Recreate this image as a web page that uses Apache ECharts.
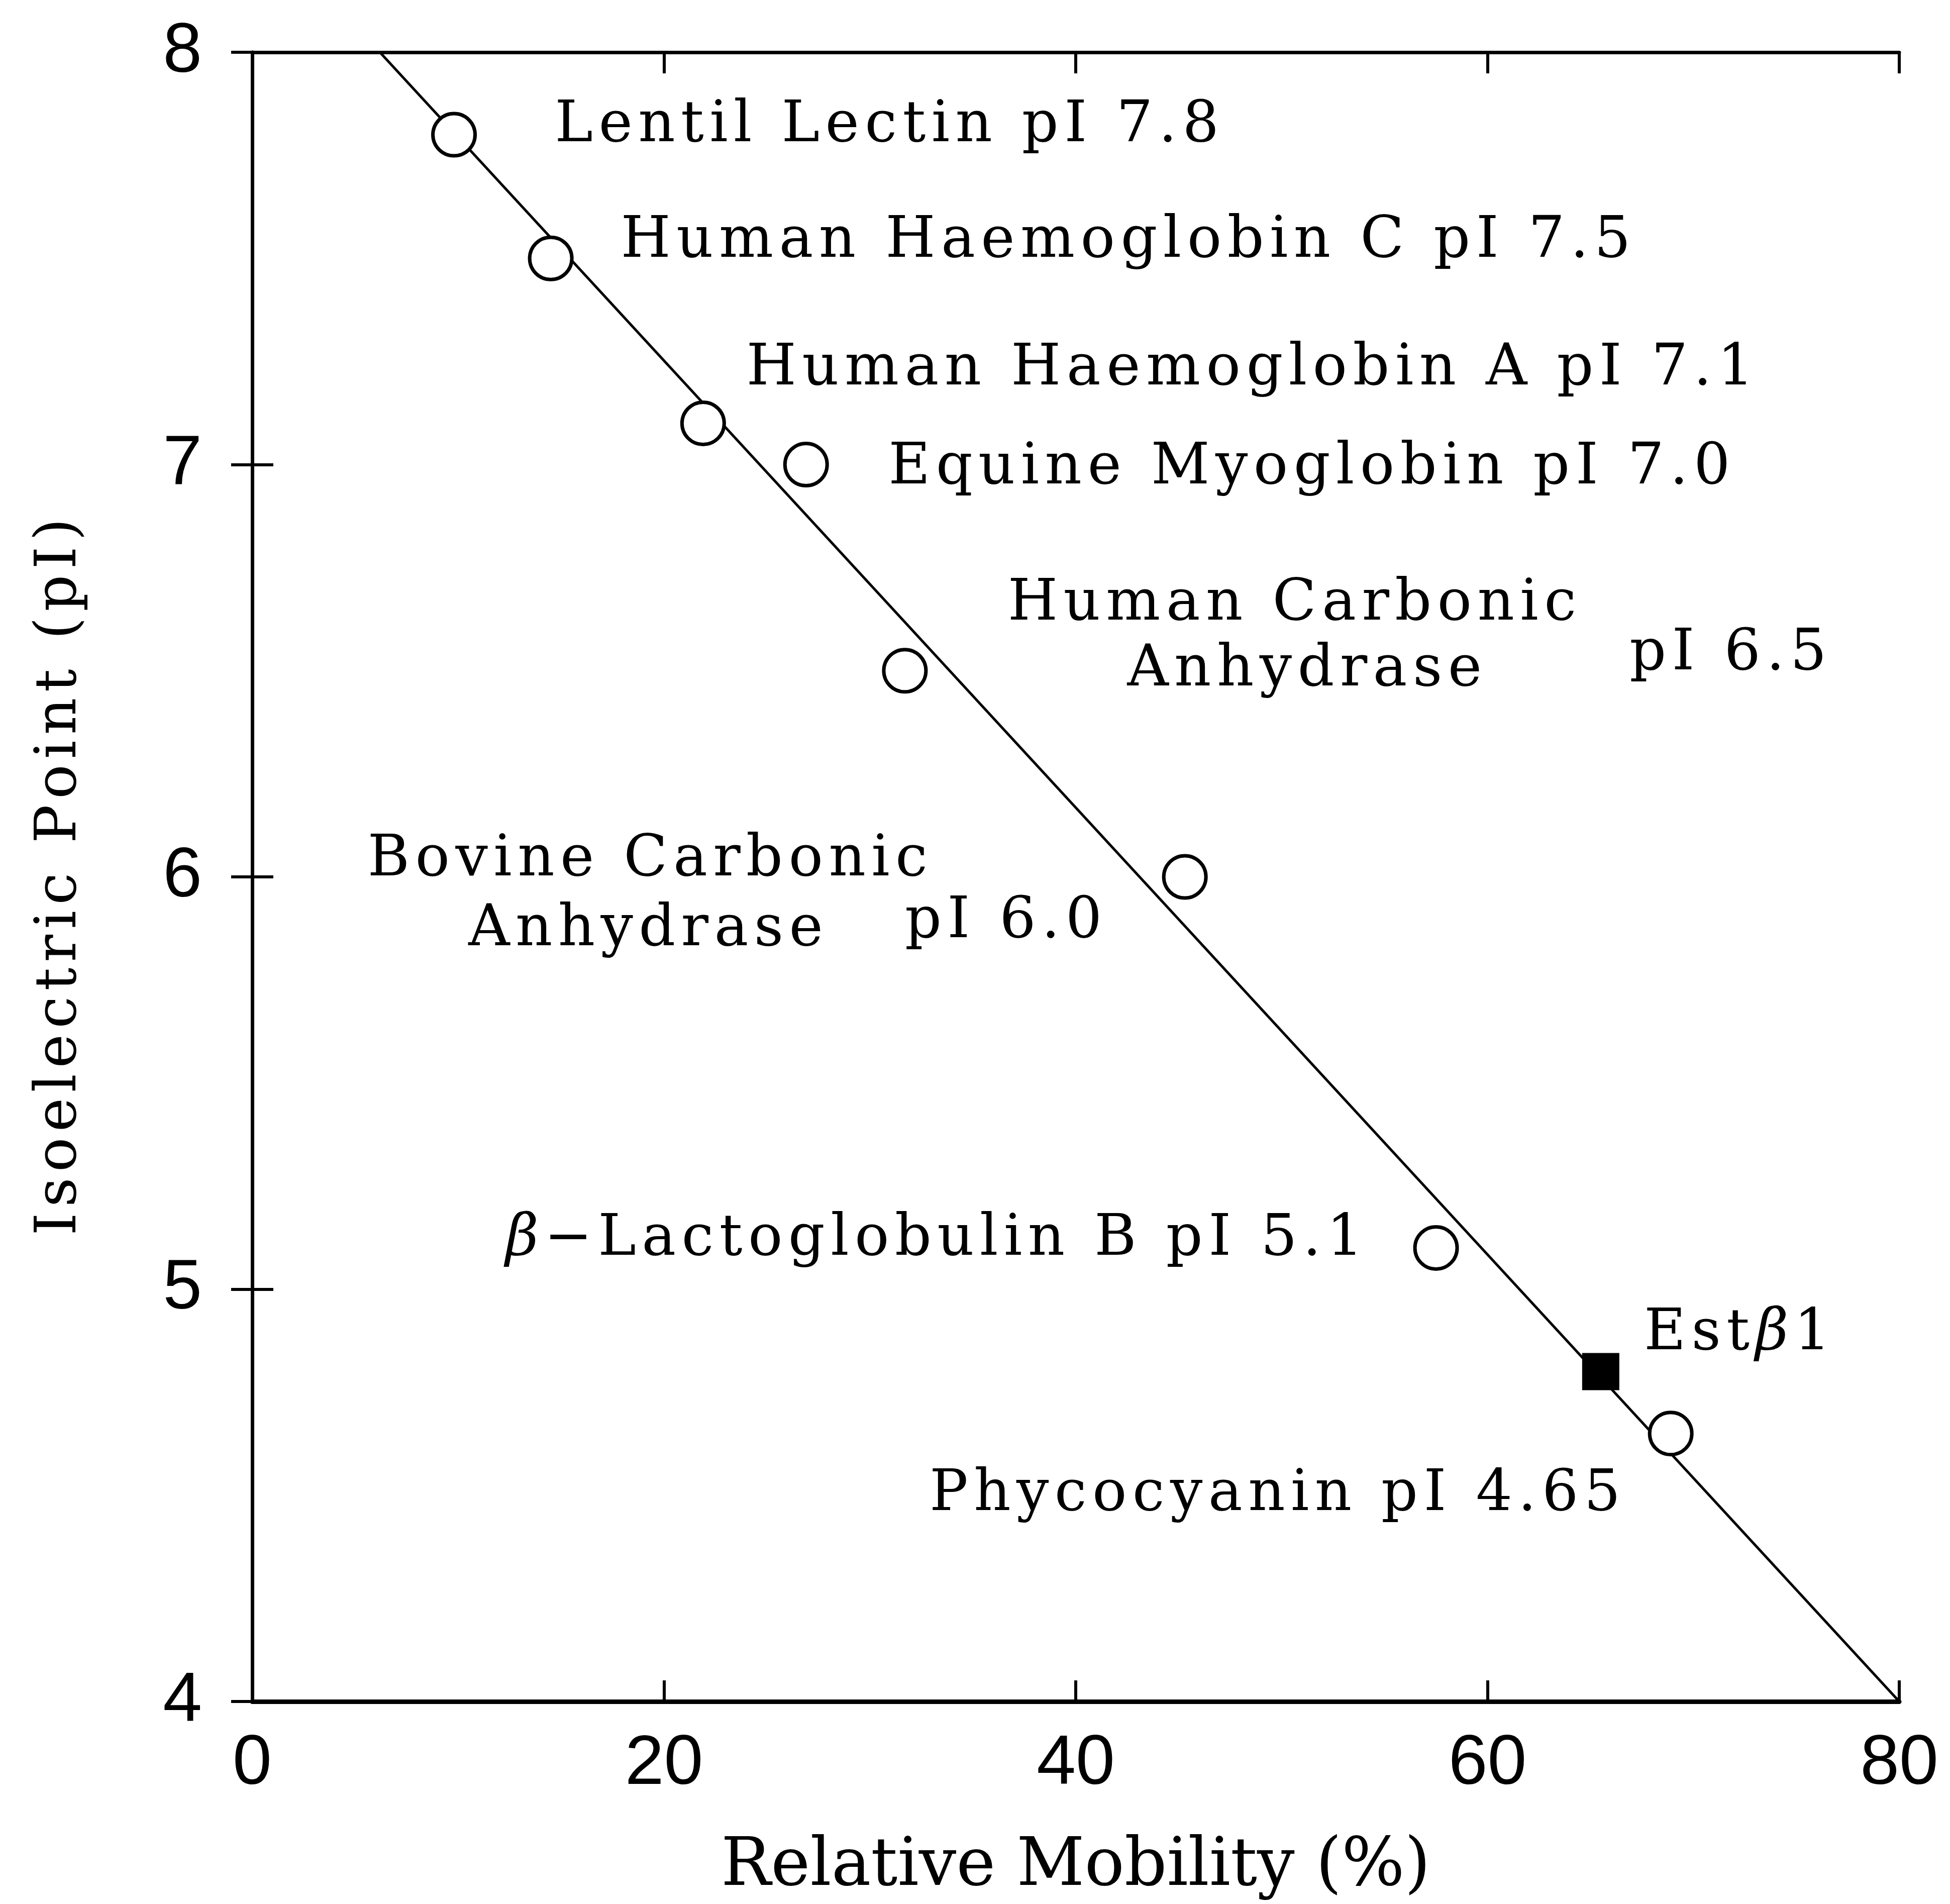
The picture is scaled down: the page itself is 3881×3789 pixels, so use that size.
<!DOCTYPE html>
<html lang="en">
<head>
    <meta charset="UTF-8">
    <title>Isoelectric Point vs Relative Mobility</title>
    <script src="https://cdn.jsdelivr.net/npm/echarts@6/dist/echarts.min.js"></script>
    <style>
        html, body { margin: 0; padding: 0; background: #fff; }
        #chart { width: 3881px; height: 3789px; }
    </style>
</head>
<body>
    <div id="chart"></div>
    <script>
        // standard proteins: [relative mobility %, pI]
        const standards = [
            [9.8, 7.8],   // Lentil Lectin
            [14.5, 7.5],  // Human Haemoglobin C
            [21.9, 7.1],  // Human Haemoglobin A
            [26.9, 7.0],  // Equine Myoglobin
            [31.7, 6.5],  // Human Carbonic Anhydrase
            [45.3, 6.0],  // Bovine Carbonic Anhydrase
            [57.5, 5.1],  // beta-Lactoglobulin B
            [68.9, 4.65]  // Phycocyanin
        ];
        // unknown sample
        const estBeta1 = [[65.5, 4.8]];
        // calibration line end points
        const fitLine = [[6.2, 8], [80, 4]];

        const xTicks = [0, 20, 40, 60, 80];
        const yTicks = [4, 5, 6, 7, 8];

        // text notes, anchored at the left edge / middle of each line (data coords)
        const notes = [
            { text: 'Lentil Lectin pI 7.8', at: [14.7, 7.82] },
            { text: 'Human Haemoglobin C pI 7.5', at: [17.9, 7.54] },
            { text: 'Human Haemoglobin A pI 7.1', at: [24.0, 7.23] },
            { text: 'Equine Myoglobin pI 7.0', at: [30.9, 6.99] },
            { text: 'Human Carbonic', at: [36.7, 6.66] },
            { text: 'Anhydrase', at: [42.5, 6.50] },
            { text: 'pI 6.5', at: [66.9, 6.54] },
            { text: 'Bovine Carbonic', at: [5.6, 6.04] },
            { text: 'Anhydrase', at: [10.5, 5.87] },
            { text: 'pI 6.0', at: [31.7, 5.89] },
            { text: 'β\u2212Lactoglobulin B pI 5.1', at: [12.3, 5.12] },
            { text: 'Estβ1', at: [67.6, 4.89] },
            { text: 'Phycocyanin pI 4.65', at: [32.9, 4.50] }
        ];

        const serif = '"DejaVu Serif", "Liberation Serif", serif';
        const sans = '"Liberation Sans", "DejaVu Sans", sans-serif';

        // the original lettering is widely tracked: put a hair space between letters
        const HAIR = '\u200A';
        const track = s => [...s].join(HAIR);
        const trackRich = s => [...s].map(c => c === 'β' ? '{it|β}' : c).join(HAIR);

        const chart = echarts.init(document.getElementById('chart'));

        const tickStyle = { show: true, inside: true, length: 42, lineStyle: { color: '#000', width: 6 } };

        const option = {
            backgroundColor: '#fff',
            animation: false,
            grid: { left: 502, right: 101, top: 104, bottom: 403 },
            xAxis: [
                {
                    type: 'value', min: 0, max: 80, interval: 20,
                    name: 'Relative Mobility (%)', nameLocation: 'middle', nameGap: 265,
                    nameTextStyle: { fontFamily: serif, fontSize: 132, color: '#000' },
                    axisLine: { show: true, lineStyle: { color: '#000', width: 9 } },
                    axisTick: tickStyle,
                    axisLabel: { fontFamily: sans, fontSize: 140, color: '#000', margin: 55,
                        formatter: v => xTicks.includes(v) ? String(v) : '' },
                    splitLine: { show: false }
                },
                {
                    type: 'value', position: 'top', min: 0, max: 80, interval: 20,
                    axisLine: { show: true, lineStyle: { color: '#000', width: 7 } },
                    axisTick: tickStyle,
                    axisLabel: { show: false },
                    splitLine: { show: false }
                }
            ],
            yAxis: [
                {
                    type: 'value', min: 4, max: 8, interval: 1,
                    name: track('Isoelectric Point (pI)'), nameLocation: 'middle', nameGap: 325,
                    nameTextStyle: { fontFamily: serif, fontSize: 114, color: '#000' },
                    axisLine: { show: true, lineStyle: { color: '#000', width: 7 } },
                    axisTick: tickStyle,
                    axisLabel: { fontFamily: sans, fontSize: 140, color: '#000', margin: 100,
                        formatter: v => yTicks.includes(v) ? String(v) : '' },
                    splitLine: { show: false }
                },
                {
                    type: 'value', position: 'right', min: 4, max: 8, interval: 1,
                    axisLine: { show: true, lineStyle: { color: '#000', width: 7 } },
                    axisTick: tickStyle,
                    axisLabel: { show: false },
                    splitLine: { show: false }
                }
            ],
            series: [
                {
                    name: 'fit', type: 'line', data: fitLine,
                    symbol: 'none', lineStyle: { color: '#000', width: 5 }, z: 1
                },
                {
                    name: 'standards', type: 'scatter', data: standards,
                    symbol: 'circle', symbolSize: 84,
                    itemStyle: { color: '#fff', borderColor: '#000', borderWidth: 7, opacity: 1 },
                    z: 3
                },
                {
                    name: 'Estβ1', type: 'scatter', data: estBeta1,
                    symbol: 'rect', symbolSize: 74,
                    itemStyle: { color: '#000', opacity: 1 }, z: 3
                },
                {
                    name: 'notes', type: 'scatter', symbolSize: 0, silent: true,
                    itemStyle: { opacity: 1 },
                    data: notes.map(n => ({ value: n.at, name: n.text })),
                    label: {
                        show: true, position: 'inside', align: 'left', verticalAlign: 'middle',
                        formatter: p => trackRich(p.name),
                        fontFamily: serif, fontSize: 114, color: '#000',
                        rich: {
                            it: { fontFamily: serif, fontSize: 114, fontStyle: 'italic', color: '#000' }
                        }
                    },
                    z: 4
                }
            ]
        };

        chart.setOption(option);
    </script>
</body>
</html>
